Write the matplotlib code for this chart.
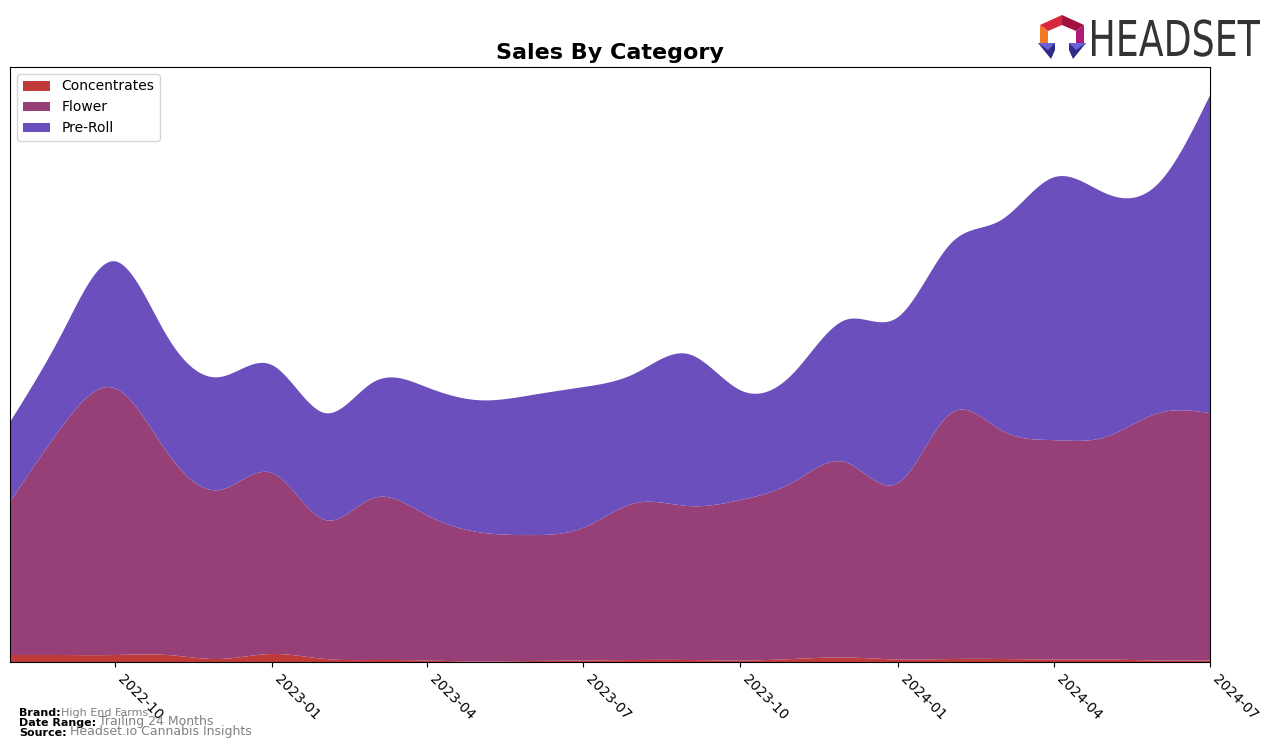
import numpy as np
import pandas as pd
import matplotlib
matplotlib.use("Agg")
import matplotlib.pyplot as plt
import matplotlib.dates as mdates
from matplotlib.textpath import TextPath
from matplotlib.patches import PathPatch, Polygon
from matplotlib.font_manager import FontProperties
from matplotlib.transforms import Affine2D

# Monthly sales by category (relative units)
months = pd.date_range("2022-08-01", periods=24, freq="MS")
concentrates = [7, 7, 7, 7, 3, 8, 3, 2, 1.5, 0.5, 1, 1.5, 2, 2, 1.5, 3, 4.5, 2.5, 3, 3, 2.5, 2.5, 1.5, 1.5]
flower = [153, 230, 267, 202, 169, 181, 139, 162, 145.5, 129.5, 126, 132.5,
          157, 154, 160.5, 177, 195.5, 176.5, 246, 229, 219.5, 222.5, 247.5, 247.5]
preroll = [80, 94, 127, 116, 113, 108, 107, 116, 128, 132, 140, 141,
           130, 152, 110, 109, 142, 166, 170, 210, 263, 244, 230, 318]

categories = ["Concentrates", "Flower", "Pre-Roll"]
colors = ["#C13A3A", "#964077", "#6A4FBD"]


def natural_spline(x, y, xs):
    x = np.asarray(x, float)
    y = np.asarray(y, float)
    n = len(x)
    h = np.diff(x)
    A = np.zeros((n, n))
    b = np.zeros(n)
    A[0, 0] = 1
    A[-1, -1] = 1
    for i in range(1, n - 1):
        A[i, i - 1] = h[i - 1]
        A[i, i] = 2 * (h[i - 1] + h[i])
        A[i, i + 1] = h[i]
        b[i] = 6 * ((y[i + 1] - y[i]) / h[i] - (y[i] - y[i - 1]) / h[i - 1])
    M = np.linalg.solve(A, b)
    idx = np.clip(np.searchsorted(x, xs) - 1, 0, n - 2)
    x0, x1 = x[idx], x[idx + 1]
    hh = x1 - x0
    t0, t1 = x1 - xs, xs - x0
    return (M[idx] * t0 ** 3 / (6 * hh) + M[idx + 1] * t1 ** 3 / (6 * hh)
            + (y[idx] / hh - M[idx] * hh / 6) * t0
            + (y[idx + 1] / hh - M[idx + 1] * hh / 6) * t1)


xnum = mdates.date2num(months)
xs = np.linspace(xnum[0], xnum[-1], 800)
series = [np.clip(natural_spline(xnum, s, xs), 0, None) for s in (concentrates, flower, preroll)]

fig = plt.figure(figsize=(12.76, 7.48), dpi=100)
ax = fig.add_axes([10 / 1276, 86 / 748, 1200 / 1276, 595 / 748])
ax.stackplot(xs, *series, labels=categories, colors=colors)

total = np.sum(series, axis=0)
ax.set_xlim(xnum[0], xnum[-1])
ax.set_ylim(0, total.max() * 1.05)
ax.set_yticks([])
ax.xaxis.set_major_locator(mdates.MonthLocator(bymonth=[1, 4, 7, 10]))
ax.xaxis.set_major_formatter(mdates.DateFormatter("%Y-%m"))
plt.setp(ax.get_xticklabels(), rotation=-45, ha="left", fontsize=10)
ax.set_title("Sales By Category", fontsize=16, fontweight="bold")
ax.legend(loc="upper left", fontsize=10)

# Footer
fig.text(19 / 1276, 1 - 713 / 748, "Brand:", fontsize=8, fontweight="bold", va="center")
fig.text(61 / 1276, 1 - 713 / 748, "High End Farms", fontsize=8, color="gray", va="center")
fig.text(19 / 1276, 1 - 723 / 748, "Date Range:", fontsize=8, fontweight="bold", va="center")
fig.text(99 / 1276, 1 - 722 / 748, "Trailing 24 Months", fontsize=9, color="gray", va="center")
fig.text(19 / 1276, 1 - 732.5 / 748, "Source:", fontsize=8, fontweight="bold", va="center")
fig.text(70 / 1276, 1 - 731.5 / 748, "Headset.io Cannabis Insights", fontsize=9, color="gray", va="center")

# Logo
px = Affine2D().scale(1 / 100, -1 / 100).translate(0, 7.48) + fig.dpi_scale_trans
logo_parts = [
    ([(1062, 15), (1040, 25), (1048, 31), (1062, 25)], "#D8283C"),
    ([(1062, 15), (1084, 25), (1076, 31), (1062, 25)], "#A3123F"),
    ([(1040, 25), (1040, 43), (1048, 43), (1048, 31)], "#F07A25"),
    ([(1084, 25), (1084, 43), (1076, 43), (1076, 31)], "#B01A7A"),
    ([(1038, 43), (1055, 43), (1055, 50), (1051, 59)], "#2E2C86"),
    ([(1038, 43), (1055, 43), (1048, 50)], "#6A62D8"),
    ([(1086, 43), (1069, 43), (1069, 50), (1073, 59)], "#2E2C86"),
    ([(1086, 43), (1069, 43), (1076, 50)], "#6A62D8"),
]
for pts, c in logo_parts:
    fig.add_artist(Polygon(pts, closed=True, facecolor=c, edgecolor="none", transform=px))

tp = TextPath((0, 0), "HEADSET", size=1, prop=FontProperties(family="DejaVu Sans"))
ext = tp.get_extents()
sx = 168 / ext.width
sy = 36 / 0.729
logo_tr = (Affine2D().translate(-ext.x0, 0).scale(sx, sy).translate(1092, 748 - 56)
           + Affine2D().scale(1 / 100) + fig.dpi_scale_trans)
fig.add_artist(PathPatch(tp, facecolor="#333333", edgecolor="none", transform=logo_tr))

fig.savefig("out.png", dpi=100)
